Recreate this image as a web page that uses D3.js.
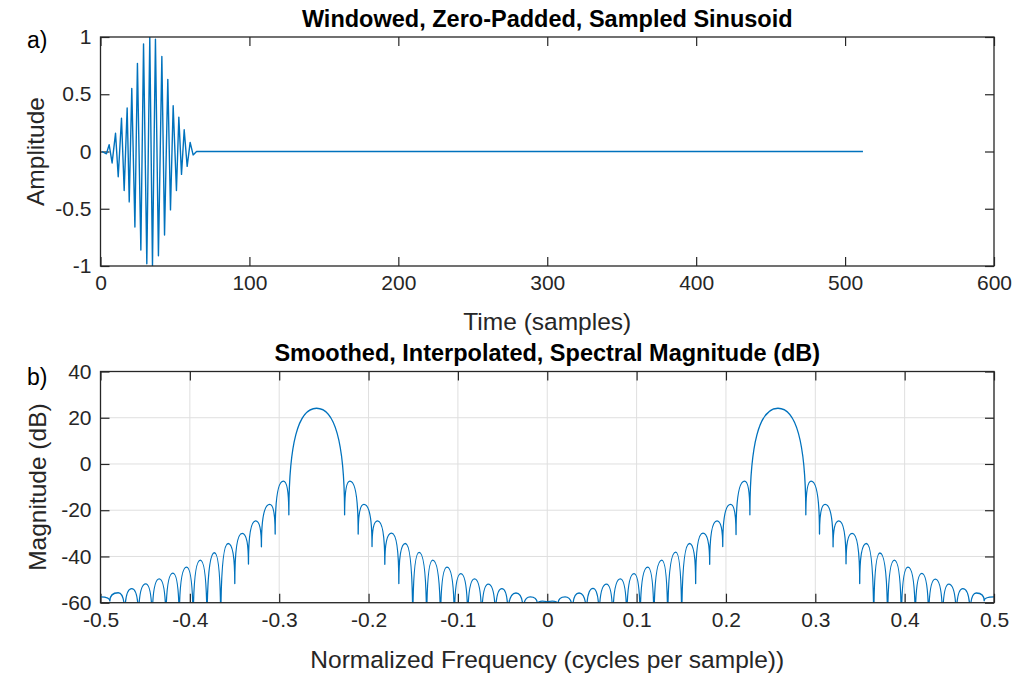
<!DOCTYPE html>
<html>
<head>
<meta charset="utf-8">
<script src="https://cdn.jsdelivr.net/npm/d3@7"></script>
<style>
  body { margin: 0; background: #fff; }
  svg { display: block; font-family: "Liberation Sans", Arial, sans-serif; }
  .tick text { fill: #262626; }
</style>
</head>
<body>
<svg id="drawing_region"></svg>
<script>
// ---- a) windowed sinusoid: vertices (sample index, amplitude)
var timeX = [1, 4.0, 5.8, 7.8, 10.1, 11.9, 14.1, 15.9, 17.9, 19.3, 21.0, 23.1, 24.8, 27.1, 28.9, 31.1,
             33.1, 34.9, 36.9, 38.9, 41.2, 43.0, 45.2, 47.0, 48.8, 51.0, 52.6, 54.4, 56.2, 58.2, 60.2,
             62.2, 64.5, 512];
var amp   = [0, -0.02, 0.06, -0.10, 0.16, -0.22, 0.29, -0.34, 0.38, -0.44, 0.55, -0.66, 0.77, -0.86, 0.94, -0.98,
             1.0, -1.0, 0.98, -0.91, 0.83, -0.73, 0.63, -0.51, 0.40, -0.34, 0.30, -0.20, 0.19, -0.13, 0.08,
             -0.03, 0.0, 0];
var timeTicks = [0, 100, 200, 300, 400, 500, 600];
var ampTicks = [-1, -0.5, 0, 0.5, 1];

// ---- b) spectrum: alternating lobe tops and dips (cycles/sample, dB)
var specFreq = [-0.5, -0.4895, -0.4801, -0.4728, -0.4650, -0.4574, -0.4494, -0.4422, -0.4343, -0.4268,
  -0.4190, -0.4119, -0.4037, -0.3963, -0.3883, -0.3808, -0.3725, -0.3654, -0.3572, -0.3497,
  -0.3414, -0.3344, -0.3263, -0.3199, -0.3106, -0.3045, -0.2953, -0.2892, -0.2582, -0.2268,
  -0.2209, -0.2116, -0.2052, -0.1961, -0.1900, -0.1818, -0.1743, -0.1661, -0.1588, -0.1505,
  -0.1434, -0.1350, -0.1282, -0.1195, -0.1122, -0.1040, -0.0967, -0.0890, -0.0814, -0.0734,
  -0.0660, -0.0581, -0.0508, -0.0440, -0.0350, -0.0270, -0.0190, -0.0110, -0.0055, 0.0,
  0.0057, 0.0120, 0.0200, 0.0283, 0.0356, 0.0439, 0.0512, 0.0581, 0.0663, 0.0734,
  0.0818, 0.0890, 0.0971, 0.1040, 0.1125, 0.1194, 0.1282, 0.1348, 0.1438, 0.1505,
  0.1592, 0.1661, 0.1743, 0.1818, 0.1900, 0.1964, 0.2052, 0.2113, 0.2209, 0.2268,
  0.2582, 0.2894, 0.2953, 0.3047, 0.3110, 0.3199, 0.3263, 0.3344, 0.3412, 0.3497,
  0.3572, 0.3654, 0.3723, 0.3809, 0.3885, 0.3963, 0.4037, 0.4119, 0.4192, 0.4268,
  0.4343, 0.4425, 0.4494, 0.4577, 0.4651, 0.4732, 0.4801, 0.4890, 0.5];
var specDb = [-57.5, -59.3, -55.7, -66, -53.9, -68, -51.9, -70, -49.7, -70,
  -47.2, -70, -44.6, -72, -41.6, -72, -38.4, -72, -34.4, -51.7,
  -30.0, -43.3, -24.6, -35.8, -17.5, -30.3, -7.4, -22.0, 24.1, -22.0,
  -7.4, -30.3, -17.5, -35.7, -24.6, -43.4, -29.9, -51.7, -34.4, -72,
  -38.2, -72, -41.6, -72, -44.6, -70, -47.4, -70, -49.7, -70,
  -52.0, -68, -53.9, -66, -55.8, -64, -57.5, -60.8, -59.3, -59.8,
  -59.3, -60.8, -57.5, -64, -55.8, -66, -53.8, -68, -52.0, -70,
  -49.7, -70, -47.4, -70, -44.6, -72, -41.6, -72, -38.1, -72,
  -34.4, -51.7, -29.9, -43.4, -24.6, -35.7, -17.5, -30.5, -7.4, -22.0,
  24.1, -22.0, -7.4, -30.3, -17.5, -35.8, -24.6, -43.2, -30.0, -51.7,
  -34.4, -72, -38.5, -72, -41.6, -72, -44.6, -70, -47.3, -70,
  -49.8, -70, -52.0, -68, -53.9, -66, -55.8, -59.2, -57.5];
var freqTicks = [-0.5, -0.4, -0.3, -0.2, -0.1, 0, 0.1, 0.2, 0.3, 0.4, 0.5];
var dbTicks = [-60, -40, -20, 0, 20, 40];

var W = 1016, H = 674;
var axisColor = '#262626', lineColor = '#0072bd', gridColor = '#dfdfdf';
var tickFont = 21, labelFont = 24.5, titleFont = 23.5;

var svg = d3.select('#drawing_region').attr('width', W).attr('height', H);

// lobe curve: rising -> leaves a dip vertically, arrives at a top flat; falling -> the reverse
function LobeCurve(context) { this._context = context; }
LobeCurve.prototype = {
  areaStart: function() { this._line = 0; },
  areaEnd: function() { this._line = NaN; },
  lineStart: function() { this._point = 0; },
  lineEnd: function() { this._line = 1 - this._line; },
  point: function(x, y) {
    x = +x; y = +y;
    if (this._point === 0) {
      this._point = 1;
      this._line ? this._context.lineTo(x, y) : this._context.moveTo(x, y);
    } else if (y < this._y) {
      this._context.quadraticCurveTo(this._x, y, x, y);
    } else {
      this._context.quadraticCurveTo(x, this._y, x, y);
    }
    this._x = x; this._y = y;
  }
};
function curveLobe(context) { return new LobeCurve(context); }

function makeAxes(cfg) {
  var g = svg.append('g').attr('transform', `translate(${cfg.left}, ${cfg.top})`);
  var iw = cfg.right - cfg.left, ih = cfg.bottom - cfg.top;
  var xscale = d3.scaleLinear().domain(cfg.xdomain).range([0, iw]);
  var yscale = d3.scaleLinear().domain(cfg.ydomain).range([ih, 0]);
  var tl = 9;

  if (cfg.grid) {
    var grid = g.append('g');
    grid.selectAll('.gx').data(cfg.xticks).join('line')
      .attr('x1', d => xscale(d)).attr('x2', d => xscale(d))
      .attr('y1', 0).attr('y2', ih)
      .attr('stroke', gridColor).attr('stroke-width', 1);
    grid.selectAll('.gy').data(cfg.yticks).join('line')
      .attr('x1', 0).attr('x2', iw)
      .attr('y1', d => yscale(d)).attr('y2', d => yscale(d))
      .attr('stroke', gridColor).attr('stroke-width', 1);
  }

  var fmt = d => String(d);
  var xb = g.append('g').attr('transform', `translate(0, ${ih})`)
    .call(d3.axisBottom(xscale).tickValues(cfg.xticks).tickFormat(fmt).tickSizeInner(-tl).tickSizeOuter(0).tickPadding(9));
  var xt = g.append('g')
    .call(d3.axisTop(xscale).tickValues(cfg.xticks).tickFormat('').tickSizeInner(-tl).tickSizeOuter(0));
  var yl = g.append('g')
    .call(d3.axisLeft(yscale).tickValues(cfg.yticks).tickFormat(fmt).tickSizeInner(-tl).tickSizeOuter(0).tickPadding(9));
  var yr = g.append('g').attr('transform', `translate(${iw}, 0)`)
    .call(d3.axisRight(yscale).tickValues(cfg.yticks).tickFormat('').tickSizeInner(-tl).tickSizeOuter(0));
  [xb, xt, yl, yr].forEach(a => {
    a.select('.domain').remove();
    a.selectAll('.tick line').attr('stroke', axisColor).attr('stroke-width', 1.2);
    a.selectAll('.tick text').attr('font-size', tickFont).attr('font-family', null);
  });

  var clipId = 'clip' + cfg.name;
  g.append('clipPath').attr('id', clipId)
    .append('rect').attr('width', iw).attr('height', ih);
  var plot = g.append('g').attr('clip-path', `url(#${clipId})`);

  g.append('rect').attr('width', iw).attr('height', ih)
    .attr('fill', 'none').attr('stroke', axisColor).attr('stroke-width', 1.3);

  g.append('text').attr('x', iw / 2).attr('y', cfg.titleY - cfg.top)
    .attr('text-anchor', 'middle').attr('font-weight', 'bold')
    .attr('font-size', titleFont).attr('fill', '#000').text(cfg.title);
  g.append('text').attr('x', iw / 2).attr('y', cfg.xlabelY - cfg.top)
    .attr('text-anchor', 'middle').attr('font-size', labelFont)
    .attr('fill', axisColor).text(cfg.xlabel);
  g.append('text')
    .attr('transform', `translate(${cfg.ylabelX - cfg.left}, ${ih / 2}) rotate(-90)`)
    .attr('text-anchor', 'middle').attr('font-size', labelFont)
    .attr('fill', axisColor).text(cfg.ylabel);
  svg.append('text').attr('x', 27).attr('y', cfg.tagY)
    .attr('font-size', 23).attr('fill', '#000').text(cfg.tag);

  return { plot: plot, xscale: xscale, yscale: yscale };
}

// a)
var axA = makeAxes({
  name: 'a', left: 100.5, right: 994, top: 37, bottom: 266,
  xdomain: [0, 600], ydomain: [-1, 1], xticks: timeTicks, yticks: ampTicks,
  grid: false, title: 'Windowed, Zero-Padded, Sampled Sinusoid', titleY: 27,
  xlabel: 'Time (samples)', xlabelY: 330, ylabel: 'Amplitude', ylabelX: 44,
  tag: 'a)', tagY: 48
});
var sig = timeX.map((x, i) => ({ x: x, y: amp[i] }));
axA.plot.append('path')
  .attr('d', d3.line().x(d => axA.xscale(d.x)).y(d => axA.yscale(d.y))(sig))
  .attr('fill', 'none').attr('stroke', lineColor).attr('stroke-width', 1.4)
  .attr('stroke-linejoin', 'round');

// b)
var axB = makeAxes({
  name: 'b', left: 100.5, right: 994, top: 371.5, bottom: 602.7,
  xdomain: [-0.5, 0.5], ydomain: [-60, 40], xticks: freqTicks, yticks: dbTicks,
  grid: true, title: 'Smoothed, Interpolated, Spectral Magnitude (dB)', titleY: 361,
  xlabel: 'Normalized Frequency (cycles per sample))', xlabelY: 668,
  ylabel: 'Magnitude (dB)', ylabelX: 46, tag: 'b)', tagY: 385
});
var spec = specFreq.map((f, i) => ({ x: f, y: specDb[i] }));
axB.plot.append('path')
  .attr('d', d3.line().x(d => axB.xscale(d.x)).y(d => axB.yscale(d.y)).curve(curveLobe)(spec))
  .attr('fill', 'none').attr('stroke', lineColor).attr('stroke-width', 1.3)
  .attr('stroke-linejoin', 'round');
</script>
</body>
</html>
